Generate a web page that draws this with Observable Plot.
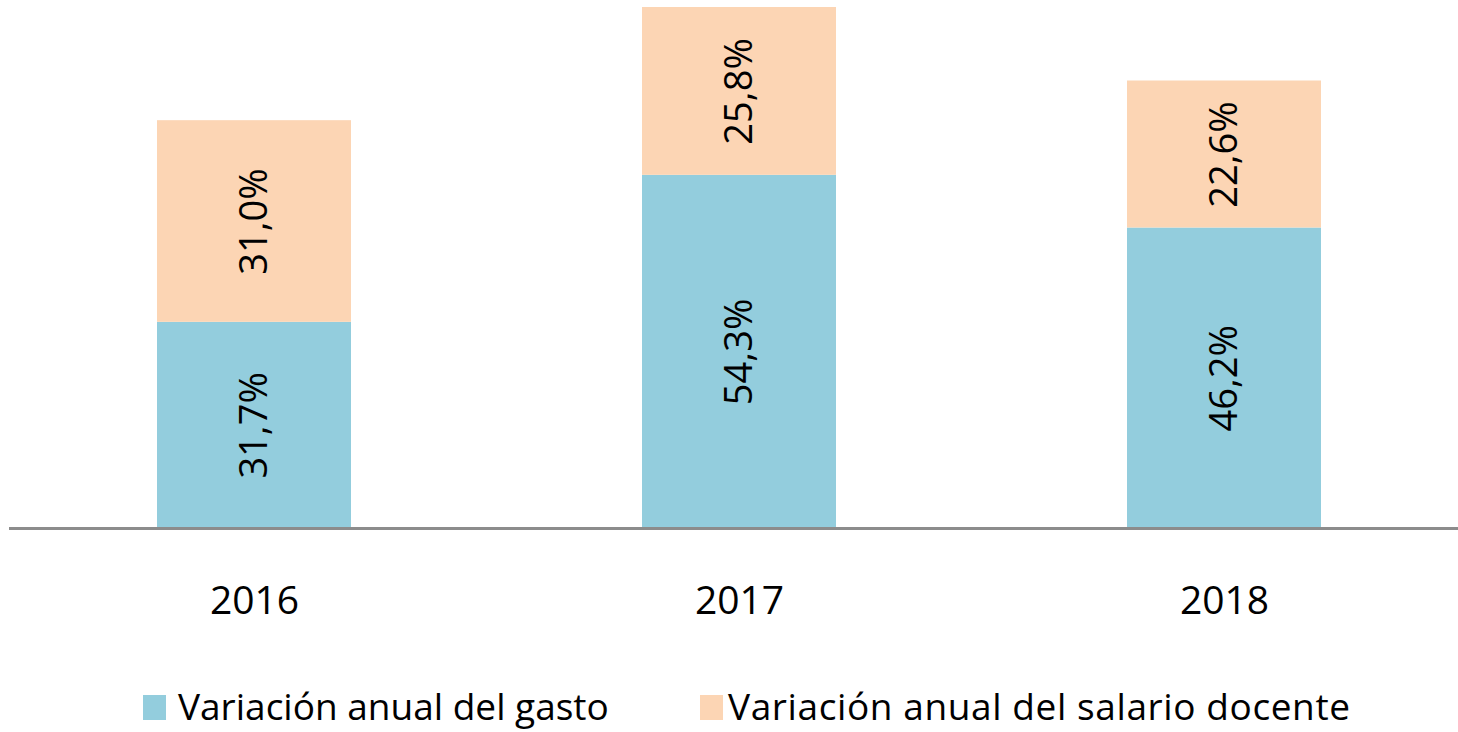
<!DOCTYPE html>
<html>
<head>
<meta charset="utf-8">
<script src="https://cdn.jsdelivr.net/npm/d3@7"></script>
<script src="https://cdn.jsdelivr.net/npm/@observablehq/plot@0.6"></script>
<style>
  body { margin: 0; background: #fff; font-family: "Open Sans", sans-serif; }
  #chart { width: 1458px; height: 732px; position: relative; overflow: hidden; }
  #legend { position: absolute; left: 0; top: 660px; width: 1458px; height: 72px; }
  .sw { position: absolute; top: 35px; width: 23px; height: 25px; }
  .lbl { position: absolute; top: 25px; font-size: 37px; line-height: 42px; white-space: nowrap; color: #000; }
</style>
</head>
<body>
<div id="chart"></div>
<script>
const years = ["2016", "2017", "2018"];
const series = ["Variación anual del gasto", "Variación anual del salario docente"];
const gasto = [31.7, 54.3, 46.2];
const salario = [31.0, 25.8, 22.6];
const labelsGasto = ["31,7%", "54,3%", "46,2%"];
const labelsSalario = ["31,0%", "25,8%", "22,6%"];
const colors = ["#93CDDD", "#FCD5B4"];

const data = [];
years.forEach((y, i) => {
  data.push({year: y, series: series[0], value: gasto[i], label: labelsGasto[i]});
  data.push({year: y, series: series[1], value: salario[i], label: labelsSalario[i]});
});

const plot = Plot.plot({
  width: 1458,
  height: 660,
  marginTop: 7,
  marginBottom: 132,
  marginLeft: 9,
  marginRight: 0,
  style: {fontFamily: "Open Sans, sans-serif", background: "#fff", color: "#000"},
  x: {domain: years, paddingInner: 0.6, paddingOuter: 0.2938, align: 0.519, label: null},
  y: {domain: [0, 80.1], axis: null},
  color: {domain: series, range: colors},
  marks: [
    Plot.barY(data, Plot.stackY({x: "year", y: "value", fill: "series", z: "series", order: series})),
    Plot.text(data, Plot.stackY({x: "year", y: "value", z: "series", text: "label", order: series, rotate: -90, fontSize: 38, fill: "#000"})),
    Plot.ruleY([0], {stroke: "#8c8c8c", strokeWidth: 3}),
    Plot.axisX({tickSize: 0, tickPadding: 58, fontSize: 39, fill: "#000"})
  ]
});
document.getElementById("chart").appendChild(plot);

const legend = document.createElement("div");
legend.id = "legend";
const legendPos = [{sw: 143, tx: 178, ls: 0}, {sw: 700, tx: 728, ls: 0.6}];
series.forEach((s, i) => {
  const sw = document.createElement("div");
  sw.className = "sw";
  sw.style.left = legendPos[i].sw + "px";
  sw.style.background = colors[i];
  legend.appendChild(sw);
  const t = document.createElement("div");
  t.className = "lbl";
  t.style.left = legendPos[i].tx + "px";
  t.style.letterSpacing = legendPos[i].ls + "px";
  t.textContent = s;
  legend.appendChild(t);
});
document.getElementById("chart").appendChild(legend);
</script>
</body>
</html>
